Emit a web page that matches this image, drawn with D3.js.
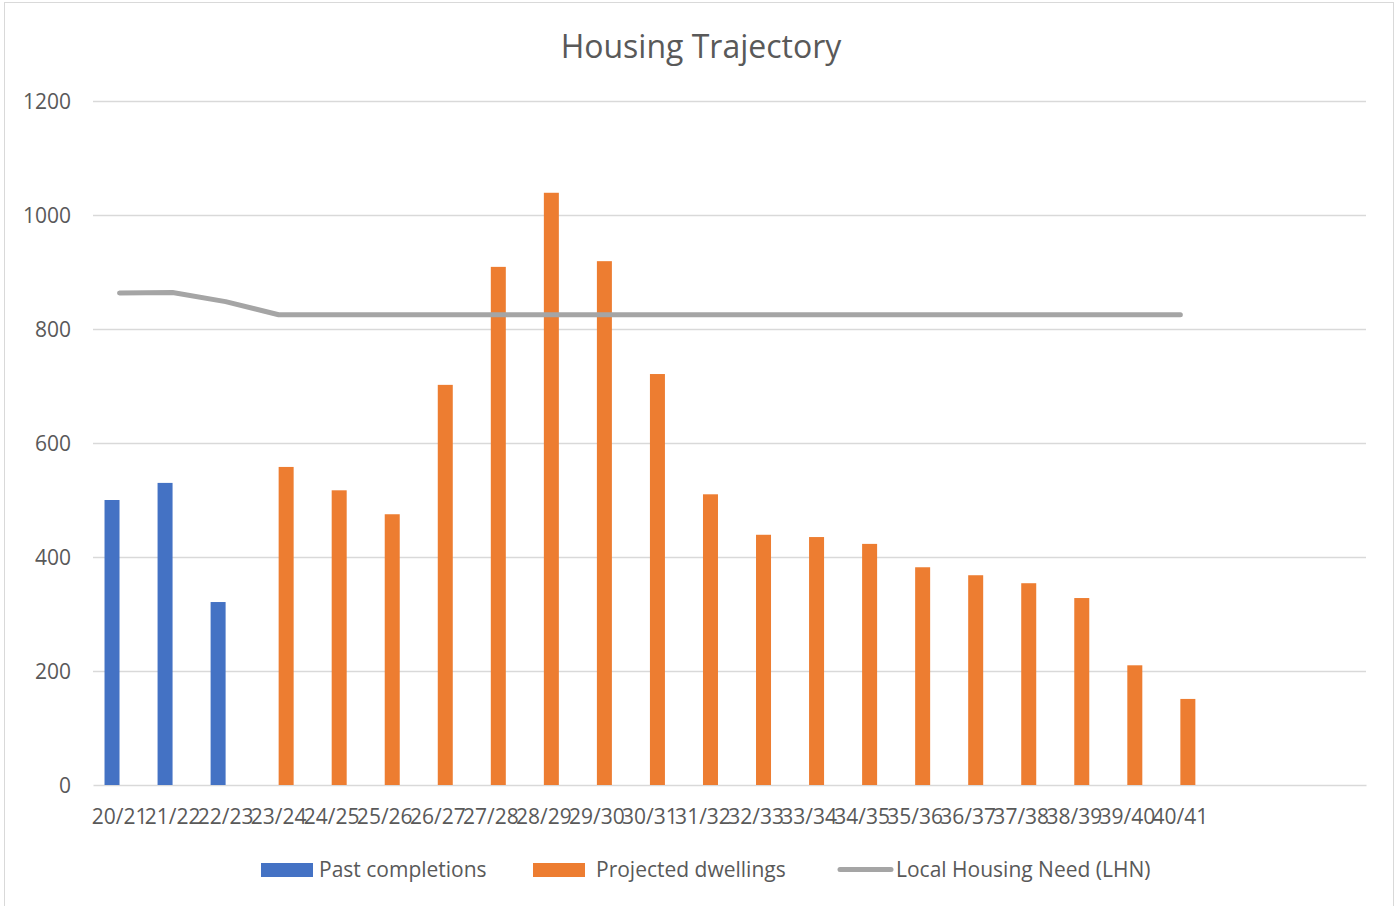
<!DOCTYPE html>
<html lang="en">
  <head>
    <title>Housing Trajectory</title>
    <meta charset="utf-8">
    <style>
      body { margin: 0; background: #ffffff; }
      .tick_txt { font-family: "Open Sans", sans-serif; font-size: 21px; fill: #595959; }
      .legend_txt { font-family: "Open Sans", sans-serif; font-size: 21px; fill: #595959; }
    </style>
    <script type="text/javascript" src="https://cdn.jsdelivr.net/npm/d3@7/dist/d3.min.js"></script>
  </head>
  <body>
    <div id="container"></div>
    <script type="text/javascript">
      // ---------------- DATA ----------------
      var categories = ['20/21','21/22','22/23','23/24','24/25','25/26','26/27','27/28','28/29','29/30',
                        '30/31','31/32','32/33','33/34','34/35','35/36','36/37','37/38','38/39','39/40','40/41'];
      var slotCount = 24; // axis runs on past the last year with empty slots
      var pastCompletions = [500, 530, 321, null, null, null, null, null, null, null,
                             null, null, null, null, null, null, null, null, null, null, null];
      var projectedDwellings = [null, null, null, 558, 517, 475, 702, 909, 1039, 919,
                                721, 510, 439, 435, 423, 382, 368, 354, 328, 210, 151];
      var localHousingNeed = [863, 864, 848, 825, 825, 825, 825, 825, 825, 825,
                              825, 825, 825, 825, 825, 825, 825, 825, 825, 825, 825];
      var yTicks = [0, 200, 400, 600, 800, 1000, 1200];
      var seriesNames = ['Past completions', 'Projected dwellings', 'Local Housing Need (LHN)'];

      // ---------------- LAYOUT ----------------
      var width = 1395, height = 906;
      var plot = {left: 93, right: 1366, top: 101, bottom: 785};
      var colors = ['#4472c4', '#ed7d31', '#a5a5a5'];

      var svg = d3.select("#container").append("svg")
                  .attr("width", width)
                  .attr("height", height);

      // chart border
      svg.append("rect")
         .attr("x", 4.5).attr("y", 2.5)
         .attr("width", 1389).attr("height", 910)
         .attr("fill", "none")
         .attr("stroke", "#d9d9d9");

      var x = d3.scaleBand()
                .domain(d3.range(slotCount))
                .range([plot.left, plot.right]);
      var barW = 15;

      var y = d3.scaleLinear()
                .domain([0, 1200])
                .range([plot.bottom, plot.top]);

      // title
      svg.append("text")
         .attr("x", 701).attr("y", 58)
         .attr("text-anchor", "middle")
         .attr("font-family", "Open Sans, sans-serif")
         .attr("font-size", "32px")
         .attr("fill", "#595959")
         .text("Housing Trajectory");

      // gridlines
      svg.append("g")
         .selectAll("line")
         .data(yTicks.filter(function(d){ return d > 0; }))
         .enter().append("line")
         .attr("x1", plot.left).attr("x2", plot.right)
         .attr("y1", function(d){ return y(d) + 0.5; })
         .attr("y2", function(d){ return y(d) + 0.5; })
         .attr("stroke", "#d9d9d9")
         .attr("stroke-width", 1.5);

      // y axis labels
      var yAxis = d3.axisLeft(y).tickValues(yTicks).tickSize(0).tickPadding(22)
                    .tickFormat(d3.format("d"));
      var gy = svg.append("g")
                  .attr("transform", "translate(" + plot.left + ",0)")
                  .call(yAxis);
      gy.select(".domain").remove();
      gy.selectAll("text").attr("class", "tick_txt").attr("dy", "0.35em");

      // x axis
      var xAxis = d3.axisBottom(x)
                    .tickSize(0)
                    .tickPadding(24)
                    .tickFormat(function(i){ return categories[i] || ""; });
      var gx = svg.append("g")
                  .attr("transform", "translate(0," + plot.bottom + ")")
                  .call(xAxis);
      gx.select(".domain").attr("stroke", "#d9d9d9").attr("stroke-width", 1.5);
      gx.selectAll("text").attr("class", "tick_txt");

      // bars: past series sits left of the slot centre, projected to the right
      svg.append("g")
         .selectAll("rect")
         .data(pastCompletions)
         .enter().filter(function(d){ return d != null; })
         .append("rect")
         .attr("x", function(d, i){ return x(i) + x.bandwidth() / 2 - barW; })
         .attr("y", function(d){ return y(d); })
         .attr("width", barW)
         .attr("height", function(d){ return plot.bottom - y(d); })
         .attr("fill", colors[0]);

      svg.append("g")
         .selectAll("rect")
         .data(projectedDwellings.map(function(d, i){ return {v: d, i: i}; })
                                 .filter(function(d){ return d.v != null; }))
         .enter().append("rect")
         .attr("x", function(d){ return x(d.i) + x.bandwidth() / 2; })
         .attr("y", function(d){ return y(d.v); })
         .attr("width", barW)
         .attr("height", function(d){ return plot.bottom - y(d.v); })
         .attr("fill", colors[1]);

      // LHN line
      var line = d3.line()
                   .x(function(d, i){ return x(i) + x.bandwidth() / 2; })
                   .y(function(d){ return y(d); });
      svg.append("path")
         .datum(localHousingNeed)
         .attr("d", line)
         .attr("fill", "none")
         .attr("stroke", colors[2])
         .attr("stroke-width", 5)
         .attr("stroke-linecap", "round")
         .attr("stroke-linejoin", "round");

      // legend
      var legendX = [261, 533, 838];
      var textGap = [58, 63, 58];
      var legend = svg.append("g");
      seriesNames.forEach(function(name, k){
        if (k < 2) {
          legend.append("rect")
                .attr("x", legendX[k]).attr("y", 863)
                .attr("width", 52).attr("height", 14)
                .attr("fill", colors[k]);
        } else {
          legend.append("line")
                .attr("x1", legendX[k] + 2).attr("x2", legendX[k] + 53)
                .attr("y1", 869.5).attr("y2", 869.5)
                .attr("stroke", colors[k])
                .attr("stroke-width", 5)
                .attr("stroke-linecap", "round");
        }
        legend.append("text")
              .attr("x", legendX[k] + textGap[k])
              .attr("y", 877)
              .attr("class", "legend_txt")
              .text(name);
      });
    </script>
  </body>
</html>
